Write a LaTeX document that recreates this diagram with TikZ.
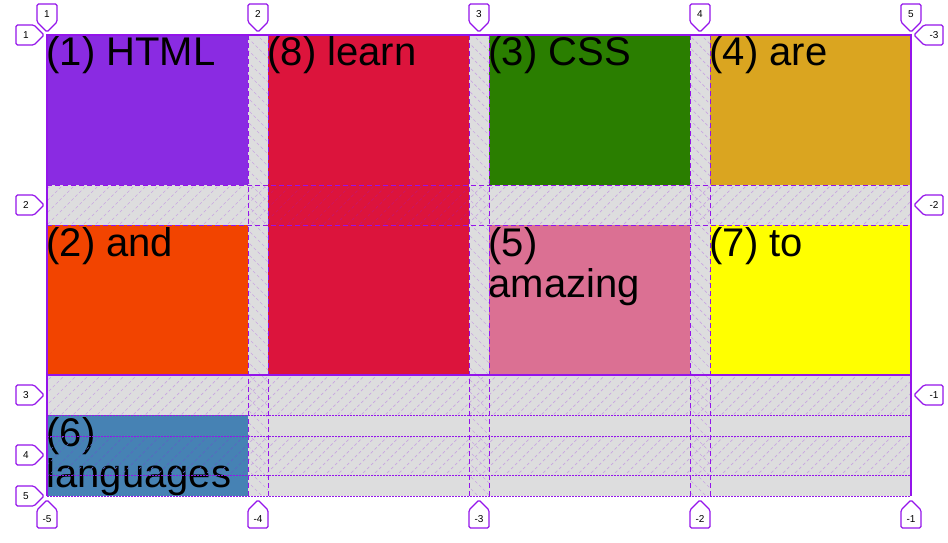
\documentclass[tikz,border=0pt]{standalone}
\usepackage{fontspec}
\setmainfont{Liberation Sans}
\definecolor{gridc}{RGB}{148,20,235}
\definecolor{gridbg}{RGB}{221,221,222}
\definecolor{cHTML}{RGB}{138,43,226}
\definecolor{cLearn}{RGB}{220,20,60}
\definecolor{cCSS}{RGB}{42,126,0}
\definecolor{cAre}{RGB}{218,165,32}
\definecolor{cAnd}{RGB}{242,68,0}
\definecolor{cAmazing}{RGB}{219,112,147}
\definecolor{cTo}{RGB}{255,255,0}
\definecolor{cLang}{RGB}{70,130,180}
\colorlet{hGrey}{gridc!28!gridbg}
\colorlet{hRed}{gridc!25!cLearn}
\colorlet{hBlue}{gridc!25!cLang}
\newcommand\labtop[3]{%
  \draw[labbox] (#2,32) -- (#2+10,22) -- (#2+10,4) -- (#2-10,4) -- (#2-10,22) -- cycle;
  \node[labtext] (#1) at (#2,14) {#3};}
\newcommand\labbot[3]{%
  \draw[labbox] (#2,500) -- (#2+10,510) -- (#2+10,528) -- (#2-10,528) -- (#2-10,510) -- cycle;
  \node[labtext] (#1) at (#2,519) {#3};}
\newcommand\lableft[3]{%
  \draw[labbox] (44,#2) -- (34,#2-10) -- (16,#2-10) -- (16,#2+10) -- (34,#2+10) -- cycle;
  \node[labtext] (#1) at (26,#2) {#3};}
\newcommand\labright[3]{%
  \draw[labbox] (914,#2) -- (924,#2-10) -- (943,#2-10) -- (943,#2+10) -- (924,#2+10) -- cycle;
  \node[labtext] (#1) at (934,#2) {#3};}
\begin{document}
\begin{tikzpicture}[x=1pt,y=-1pt,
  every node/.style={inner sep=0pt,outer sep=0pt},
  cell/.style={anchor=north west,minimum width=201pt,draw=none},
  itemtext/.style={anchor=base west,font=\fontsize{40}{41}\selectfont,text=black},
  labbox/.style={draw=gridc,fill=white,line width=1.2pt,rounded corners=1.5pt},
  labtext/.style={font=\fontsize{10}{12}\selectfont,text=black},
  hatch/.style={line width=0.7pt,dash pattern=on 3pt off 2.5pt},
  solidline/.style={draw=gridc,line width=1.3pt}]
\useasboundingbox (0,0) rectangle (948,543);
\fill[white] (0,0) rectangle (948,543);
\fill[gridbg] (47,35) rectangle (911,496);
% items
\node[cell,fill=cHTML,minimum height=150pt] (i1) at (47,35) {};
\node[cell,fill=cLearn,minimum height=340pt] (i8) at (268,35) {};
\node[cell,fill=cCSS,minimum height=150pt] (i3) at (489,35) {};
\node[cell,fill=cAre,minimum height=150pt] (i4) at (710,35) {};
\node[cell,fill=cAnd,minimum height=150pt] (i2) at (47,225) {};
\node[cell,fill=cAmazing,minimum height=150pt] (i5) at (489,225) {};
\node[cell,fill=cTo,minimum height=150pt] (i7) at (710,225) {};
\node[cell,fill=cLang,minimum height=81pt] (i6) at (47,415) {};
% texts
\node[itemtext] (t1) at ([xshift=-0.5pt,yshift=-31pt]i1.north west) {(1) HTML};
\node[itemtext] (t8) at ([xshift=-0.5pt,yshift=-31pt]i8.north west) {(8) learn};
\node[itemtext] (t3) at ([xshift=-0.5pt,yshift=-31pt]i3.north west) {(3) CSS};
\node[itemtext] (t4) at ([xshift=-0.5pt,yshift=-31pt]i4.north west) {(4) are};
\node[itemtext] (t2) at ([xshift=-0.5pt,yshift=-31pt]i2.north west) {(2) and};
\node[itemtext] (t5) at ([xshift=-0.5pt,yshift=-31pt]i5.north west) {\vtop{\hbox{(5)}\hbox{amazing}}};
\node[itemtext] (t7) at ([xshift=-0.5pt,yshift=-31pt]i7.north west) {(7) to};
\node[itemtext] (t6) at ([xshift=-0.5pt,yshift=-31pt]i6.north west) {\vtop{\hbox{(6)}\hbox{languages}}};
% hatching in row gaps (grey parts)
\begin{scope}
  \clip (47,185) rectangle (268,225) (469,185) rectangle (911,225)
        (47,375) rectangle (911,415) (248,436) rectangle (911,475);
  \foreach \i in {-480,-468,...,960} \draw[hatch,hGrey] (\i,500) -- (\i+470,30);
\end{scope}
% hatching over item 8 and item 6
\begin{scope}
  \clip (268,185) rectangle (469,225);
  \foreach \i in {-480,-468,...,960} \draw[hatch,hRed] (\i,500) -- (\i+470,30);
\end{scope}
\begin{scope}
  \clip (47,436) rectangle (248,475);
  \foreach \i in {-480,-468,...,960} \draw[hatch,hBlue] (\i,500) -- (\i+470,30);
\end{scope}
% hatching in column gaps
\begin{scope}
  \clip (248,35) rectangle (268,496) (469,35) rectangle (489,496) (690,35) rectangle (710,496);
  \foreach \i in {-480,-468,...,960} \draw[hatch,hGrey] (\i,30) -- (\i+470,500);
\end{scope}
% grid lines: dashed (as filled dashes)
\foreach \x in {248,268,469,489,690,710}
  \foreach \y in {35,43,...,491} \fill[gridc] (\x-0.1,\y) rectangle (\x+1.1,\y+5);
\foreach \y in {185,225}
  \foreach \x in {47,55,...,906} \fill[gridc] (\x,\y-0.1) rectangle (\x+5,\y+1.1);
% dotted lines
\foreach \y in {415,436,475,496}
  \foreach \x in {47,50,...,909} \fill[gridc] (\x,\y-0.1) rectangle (\x+1.5,\y+1.1);
\draw[solidline] (47,35) rectangle (911,375);
\draw[solidline] (47,375) -- (47,496) (911,375) -- (911,496);
% line labels
\labtop{lt1}{47}{1}
\labtop{lt2}{258}{2}
\labtop{lt3}{479}{3}
\labtop{lt4}{700}{4}
\labtop{lt5}{911}{5}
\labbot{lb1}{47}{-5}
\labbot{lb2}{258}{-4}
\labbot{lb3}{479}{-3}
\labbot{lb4}{700}{-2}
\labbot{lb5}{911}{-1}
\lableft{ll1}{35}{1}
\lableft{ll2}{205}{2}
\lableft{ll3}{395}{3}
\lableft{ll4}{455}{4}
\lableft{ll5}{496}{5}
\labright{lr1}{35}{-3}
\labright{lr2}{205}{-2}
\labright{lr3}{395}{-1}
\end{tikzpicture}
\end{document}
